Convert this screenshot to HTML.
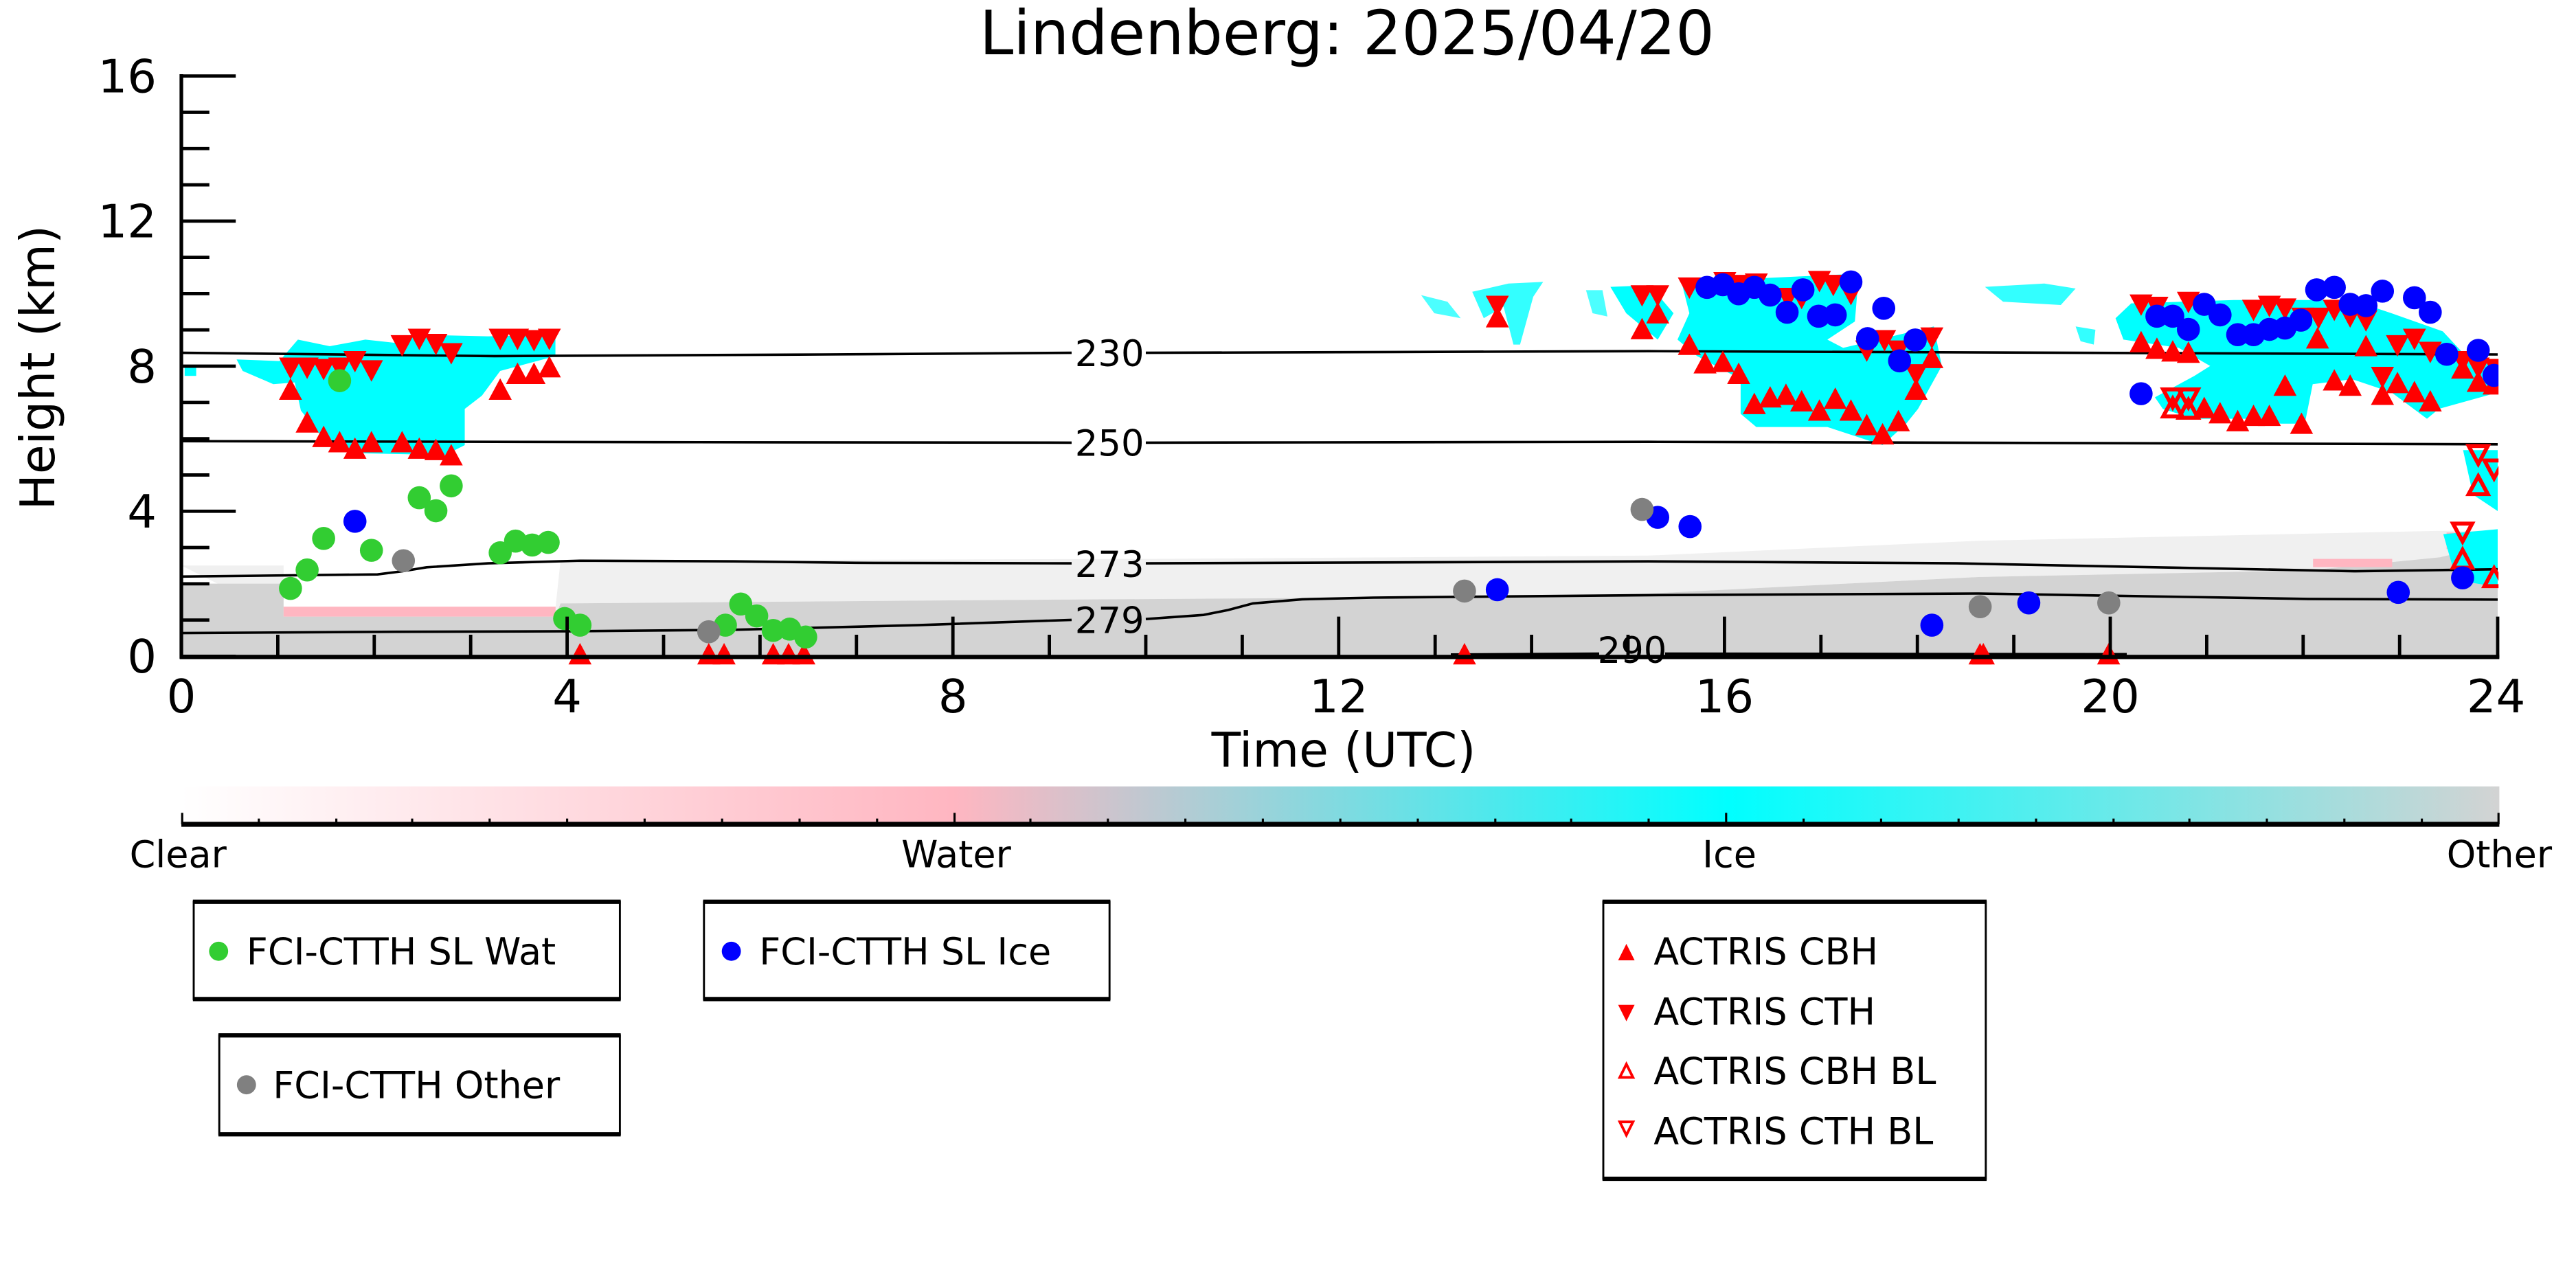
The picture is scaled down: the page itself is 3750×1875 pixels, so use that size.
<!DOCTYPE html>
<html><head><meta charset="utf-8"><style>
html,body{margin:0;padding:0;background:#fff}
svg{display:block}
text{font-family:"DejaVu Sans","Liberation Sans",sans-serif}
</style></head><body>
<svg width="3750" height="1875" viewBox="0 0 1562.5 781.25" xmlns="http://www.w3.org/2000/svg">
<defs>
<path id="u" d="M-7,6H7L0,-7Z" fill="#ff0000"/>
<path id="d" d="M-7,-6H7L0,7Z" fill="#ff0000"/>
<path id="hu" d="M-5.8,5H5.8L0,-5.8Z" fill="none" stroke="#ff0000" stroke-width="2.4"/>
<path id="hd" d="M-5.8,-5H5.8L0,5.8Z" fill="none" stroke="#ff0000" stroke-width="2.4"/>
<circle id="g" r="7" fill="#32cd32"/>
<circle id="b" r="7" fill="#0000ff"/>
<circle id="o" r="7" fill="#808080"/>
<linearGradient id="cb" x1="0" x2="1" y1="0" y2="0">
<stop offset="0" stop-color="#ffffff"/>
<stop offset="0.333" stop-color="#ffb6c1"/>
<stop offset="0.5" stop-color="#80dae0"/>
<stop offset="0.667" stop-color="#00ffff"/>
<stop offset="1" stop-color="#d3d3d3"/>
</linearGradient>
</defs>

<text x="817" y="33" font-size="37" text-anchor="middle">Lindenberg: 2025/04/20</text>

<polygon fill="#f0f0f0" points="110,343 172,343 172,368 337,368 340,340 700,339 1000,337 1200,328 1480,322 1515,322 1515,330 1480,338 1400,346 1200,350 1000,360 900,362 600,364 340,366 337,374 172,374"/>
<polygon fill="#d3d3d3" points="110,354 172,354 172,374 337,374 340,366 600,364 900,362 1000,360 1200,350 1400,346 1480,338 1515,330 1515,398 110,398"/>
<rect x="172" y="368" width="165" height="6" fill="#ffb6c1"/>
<rect x="1403" y="339" width="48" height="5" fill="#ffb6c1"/>
<rect x="1484" y="323" width="31" height="10" fill="#ffb6c1"/>

<g fill="#00ffff">
<polygon points="143.5,218 169.5,219 180.7,206 200,210 221.6,206 240.2,208 251.4,203 296,204 336.9,203 336.9,216 303.4,225 292.3,240 281.9,248 281.9,270 270,276 221.6,275 199.3,270 182.5,249 178.8,232 165.8,233 147.2,225"/>
<rect x="112" y="222" width="7" height="6"/>
<polygon points="1019.9,171 1127.5,166 1125.1,195 1108.4,206 1118,211 1173,198 1177.8,222 1163.4,248 1156.2,257 1141.9,270 1108.4,259 1065.3,259 1055.8,251 1055.8,230 1029.4,216 1017.5,206 1024.7,190"/>
<polygon points="976.8,174 1000.7,173 1015.1,190 1005.5,206 986.4,190"/>
<polygon points="962,176 972,176 975,192 966,190" opacity="0.7"/>
<polygon points="893,177 915,172 936,171 930,180 922,209 918,209 912,186 900,193" opacity="0.8"/>
<polygon points="862,179 878,183 886,193 870,190" opacity="0.7"/>
<polygon points="1283.2,193 1292.7,184 1355,182 1426.7,182 1450.6,190 1481.7,201 1498.5,219 1515.2,220 1515.2,238 1479.3,248 1472.1,254 1450.6,238 1426.7,230 1402.8,233 1398,257 1383.6,257 1364.5,254 1345.4,254 1331,254 1311.9,248 1307.1,241 1331,228 1340.6,222 1321.5,211 1288,206"/>
<polygon points="1204,174 1240,172 1259,175 1250,185 1215,183" opacity="0.8"/>
<polygon points="1259,198 1271,200 1270,209 1262,207" opacity="0.8"/>
<polygon points="1494,273 1515,273 1515,310 1500,300"/>
<polygon points="1482,324 1515,321 1515,356 1490,352"/>
</g>

<g fill="none" stroke="#000" stroke-width="1.5">
<polyline points="110,214 300,216 500,215 650,214"/>
<polyline points="695,214 1000,213 1515,215"/>
<polyline points="110,267.6 400,268.2 650,268.5"/>
<polyline points="695,268.5 1000,268 1515,269.5"/>
<polyline points="110,349.7 229,348.4 244,346.5 258.8,344.1 296,341.7 351.8,340.1 444.8,340.5 519.2,341.4 650,341.7"/>
<polyline points="695,341.7 1000,340.5 1187,341.7 1428,346.5 1515,345.3"/>
<polyline points="110,384 240,383.2 348,382.9 444.8,382 556.5,379.2 650,376"/>
<polyline points="695,375.5 730,373 745,370 760,366 790,363.5 833,362.5 1000,361 1200,360 1400,363.3 1515,363.7"/>
<polyline points="880,397 970,396.5"/>
<polyline points="1010,396.5 1290,396.8"/>
</g>
<g font-size="22" text-anchor="middle">
<text x="673" y="222">230</text>
<text x="673" y="276.5">250</text>
<text x="673" y="350">273</text>
<text x="673" y="384">279</text>
<text x="990" y="402">290</text>
</g>

<g>
<use href="#d" x="176.2" y="222.9"/><use href="#d" x="186.3" y="222.9"/><use href="#d" x="196.3" y="223.7"/><use href="#d" x="206" y="222.9"/><use href="#d" x="215.3" y="218.9"/><use href="#d" x="225.3" y="224.5"/><use href="#d" x="243.9" y="209.3"/><use href="#d" x="254.3" y="205.4"/><use href="#d" x="264.4" y="208.5"/><use href="#d" x="273.7" y="214.1"/><use href="#d" x="303.4" y="205.4"/><use href="#d" x="313.9" y="205.4"/><use href="#d" x="323.9" y="206.2"/><use href="#d" x="333.2" y="205.4"/>
<use href="#u" x="176.2" y="236.5"/><use href="#u" x="186.3" y="256.4"/><use href="#u" x="196.3" y="265.2"/><use href="#u" x="206" y="268.4"/><use href="#u" x="215.3" y="272.3"/><use href="#u" x="225.3" y="268.4"/><use href="#u" x="243.9" y="268.4"/><use href="#u" x="254.3" y="272.3"/><use href="#u" x="264.4" y="273.1"/><use href="#u" x="273.7" y="276.3"/><use href="#u" x="303.4" y="236.5"/><use href="#u" x="313.9" y="226.9"/><use href="#u" x="323.9" y="226.9"/><use href="#u" x="333.2" y="222.9"/>
<use href="#u" x="351.8" y="397"/><use href="#u" x="429.9" y="397"/><use href="#u" x="439.2" y="397"/><use href="#u" x="469" y="397"/><use href="#u" x="478.3" y="397"/><use href="#u" x="487.6" y="397"/><use href="#u" x="888.3" y="397"/><use href="#u" x="1201" y="397"/><use href="#u" x="1203" y="397"/><use href="#u" x="1279" y="397"/>

<use href="#g" x="206" y="230.9"/><use href="#g" x="176.2" y="356.9"/><use href="#g" x="186.3" y="345.7"/><use href="#g" x="196.3" y="326.6"/><use href="#g" x="225.3" y="333.8"/><use href="#g" x="254.3" y="301.9"/><use href="#g" x="264.4" y="309.8"/><use href="#g" x="273.7" y="294.7"/><use href="#g" x="303.4" y="335.3"/><use href="#g" x="312.7" y="328.2"/><use href="#g" x="322.8" y="330.6"/><use href="#g" x="332.5" y="329"/><use href="#g" x="342.5" y="375.2"/><use href="#g" x="351.8" y="379.2"/><use href="#g" x="449.3" y="366.4"/><use href="#g" x="459" y="373.6"/><use href="#g" x="440" y="379.2"/><use href="#g" x="469" y="382.4"/><use href="#g" x="479" y="381.6"/><use href="#g" x="488.7" y="386.4"/>
<use href="#b" x="215.3" y="316.2"/>
<use href="#o" x="244.7" y="340.1"/><use href="#o" x="429.9" y="383.2"/>

<use href="#d" x="908.2" y="185.4"/><use href="#u" x="908.2" y="192.6"/>
<use href="#d" x="996" y="179"/><use href="#u" x="996" y="199.8"/><use href="#d" x="1005.5" y="179"/><use href="#u" x="1005.5" y="190.2"/><use href="#d" x="1024.7" y="174.3"/>
<use href="#u" x="1024.7" y="209.3"/><use href="#u" x="1034.2" y="220.5"/><use href="#u" x="1045" y="219.7"/><use href="#u" x="1054.6" y="226.9"/><use href="#u" x="1064.1" y="245.2"/><use href="#u" x="1073.7" y="241.2"/><use href="#u" x="1083.3" y="239.6"/><use href="#u" x="1092.8" y="243.6"/><use href="#u" x="1103.6" y="249.2"/><use href="#u" x="1113.2" y="242"/><use href="#u" x="1122.7" y="249.2"/><use href="#u" x="1132.3" y="258"/><use href="#u" x="1141.9" y="263.6"/><use href="#u" x="1151.5" y="255.6"/><use href="#u" x="1162.2" y="236.5"/><use href="#u" x="1171.8" y="217.3"/>
<use href="#d" x="1103.6" y="170.3"/><use href="#d" x="1112" y="172.7"/><use href="#d" x="1122.7" y="178.2"/><use href="#d" x="1143.1" y="206.2"/><use href="#d" x="1132.3" y="212.5"/><use href="#d" x="1151.5" y="212.5"/><use href="#d" x="1171.8" y="204.6"/><use href="#d" x="1162.2" y="226.9"/><use href="#d" x="1084.5" y="180.6"/><use href="#d" x="1092.8" y="180.6"/><use href="#d" x="1055.8" y="172.7"/><use href="#d" x="1046.2" y="171"/><use href="#d" x="1065.3" y="171.9"/>
<use href="#b" x="1035.4" y="174.3"/><use href="#b" x="1045" y="172.7"/><use href="#b" x="1054.6" y="178.2"/><use href="#b" x="1064.1" y="174.3"/><use href="#b" x="1073.7" y="179"/><use href="#b" x="1084" y="189.4"/><use href="#b" x="1093.6" y="175.8"/><use href="#b" x="1103.1" y="191.8"/><use href="#b" x="1113.2" y="191"/><use href="#b" x="1122.7" y="171"/><use href="#b" x="1142.6" y="187"/><use href="#b" x="1132.8" y="205.4"/><use href="#b" x="1161.7" y="206.2"/><use href="#b" x="1152.2" y="218.9"/><use href="#b" x="1005.5" y="313.8"/><use href="#b" x="1025.1" y="319.4"/><use href="#b" x="908.2" y="357.7"/><use href="#b" x="1171.8" y="379.2"/>
<use href="#o" x="996" y="309"/><use href="#o" x="888.3" y="358.5"/><use href="#o" x="1201.1" y="368"/><use href="#o" x="1279.1" y="365.7"/>

<use href="#d" x="1298.7" y="184.6"/><use href="#d" x="1308.3" y="186"/><use href="#d" x="1327.4" y="183"/><use href="#d" x="1366.9" y="187.8"/><use href="#d" x="1376.5" y="185.4"/><use href="#d" x="1386" y="187"/><use href="#d" x="1396.8" y="192.6"/><use href="#d" x="1406.4" y="192.6"/><use href="#d" x="1415.9" y="187.8"/><use href="#d" x="1425.5" y="191.8"/><use href="#d" x="1435.1" y="194.2"/><use href="#d" x="1454.2" y="209.3"/><use href="#d" x="1464.5" y="205.4"/><use href="#d" x="1474.1" y="213.3"/><use href="#d" x="1493.7" y="218.9"/><use href="#d" x="1503.2" y="222.9"/><use href="#d" x="1445.1" y="228.5"/><use href="#d" x="1514" y="223.7"/>
<use href="#u" x="1298.7" y="207.7"/><use href="#u" x="1308.3" y="211.7"/><use href="#u" x="1317.9" y="213.3"/><use href="#u" x="1327.4" y="214.1"/><use href="#u" x="1337" y="247.6"/><use href="#u" x="1346.6" y="250.8"/><use href="#u" x="1357.3" y="255.6"/><use href="#u" x="1366.9" y="252.4"/><use href="#u" x="1376.5" y="252.4"/><use href="#u" x="1386" y="234.1"/><use href="#u" x="1396" y="257.2"/><use href="#u" x="1405.7" y="205.4"/><use href="#u" x="1415.9" y="230.9"/><use href="#u" x="1425.5" y="234.1"/><use href="#u" x="1435.1" y="210.1"/><use href="#u" x="1445.1" y="239.6"/><use href="#u" x="1454.2" y="232.5"/><use href="#u" x="1464.5" y="238"/><use href="#u" x="1474.1" y="243.6"/><use href="#u" x="1493.7" y="223.7"/><use href="#u" x="1503.2" y="231.7"/><use href="#u" x="1512.8" y="233.3"/>
<use href="#hd" x="1317.9" y="241.2"/><use href="#hd" x="1327.4" y="241.2"/><use href="#hd" x="1503.2" y="275.5"/><use href="#hd" x="1512.8" y="284.3"/><use href="#hd" x="1493.7" y="322.6"/>
<use href="#hu" x="1317.9" y="247.6"/><use href="#hu" x="1327.4" y="248.4"/><use href="#hu" x="1503.2" y="294.7"/><use href="#hu" x="1493.7" y="339.3"/><use href="#hu" x="1512.8" y="350.5"/>
<use href="#b" x="1298.7" y="238.8"/><use href="#b" x="1308.3" y="191.8"/><use href="#b" x="1317.9" y="191.8"/><use href="#b" x="1327.4" y="199.8"/><use href="#b" x="1337" y="184.6"/><use href="#b" x="1346.6" y="191"/><use href="#b" x="1357.3" y="203"/><use href="#b" x="1366.9" y="203"/><use href="#b" x="1376.5" y="199.8"/><use href="#b" x="1386" y="199"/><use href="#b" x="1395.6" y="194.2"/><use href="#b" x="1405.2" y="175.8"/><use href="#b" x="1415.9" y="174.3"/><use href="#b" x="1425.5" y="184.6"/><use href="#b" x="1435.1" y="185.4"/><use href="#b" x="1445.1" y="176.6"/><use href="#b" x="1464.5" y="180.6"/><use href="#b" x="1474.1" y="189.4"/><use href="#b" x="1484.1" y="214.9"/><use href="#b" x="1503.2" y="212.5"/><use href="#b" x="1512.8" y="227.7"/><use href="#b" x="1493.7" y="350.5"/><use href="#b" x="1454.7" y="359.3"/><use href="#b" x="1230.6" y="365.7"/>
</g>
<rect x="1515.5" y="150" width="20" height="260" fill="#fff"/>

<g stroke="#000">
<line x1="110" y1="45" x2="110" y2="399.5" stroke-width="2.2"/>
<line x1="109" y1="398.5" x2="1516" y2="398.5" stroke-width="2.6"/>
<line x1="1515" y1="374" x2="1515" y2="399" stroke-width="2"/>
</g>
<g stroke="#000" stroke-width="2">
<path d="M110,46.1h33M110,134.1h33M110,222.1h33M110,310.1h33M110,398.1h33"/>
<path d="M110,68.1h17M110,90.1h17M110,112.1h17M110,156.1h17M110,178.1h17M110,200.1h17M110,244.1h17M110,266.1h17M110,288.1h17M110,332.1h17M110,354.1h17M110,376.1h17"/>
<path d="M344,398v-24M578,398v-24M812,398v-24M1046,398v-24M1280,398v-24"/>
<path d="M168.5,398v-13M227,398v-13M285.5,398v-13M402.5,398v-13M461,398v-13M519.5,398v-13M636.5,398v-13M695,398v-13M753.5,398v-13M870.5,398v-13M929,398v-13M987.5,398v-13M1104.5,398v-13M1163,398v-13M1221.5,398v-13M1338.5,398v-13M1397,398v-13M1455.5,398v-13"/>
</g>
<g font-size="28" text-anchor="end">
<text x="95" y="56">16</text>
<text x="95" y="144">12</text>
<text x="95" y="232">8</text>
<text x="95" y="320">4</text>
<text x="95" y="408">0</text>
</g>
<g font-size="28" text-anchor="middle">
<text x="110" y="432">0</text>
<text x="344" y="432">4</text>
<text x="578" y="432">8</text>
<text x="812" y="432">12</text>
<text x="1046" y="432">16</text>
<text x="1280" y="432">20</text>
<text x="1514" y="432">24</text>
<text x="815" y="465" font-size="29">Time (UTC)</text>
<text transform="translate(33,223) rotate(-90)" font-size="29">Height (km)</text>
</g>

<rect x="110" y="477" width="1406" height="22" fill="url(#cb)"/>
<line x1="110" y1="500" x2="1516" y2="500" stroke="#000" stroke-width="3"/>
<g stroke="#000" stroke-width="1.3">
<path d="M110.5,500v-7M579,500v-7M1047,500v-7M1515.5,500v-7"/>
<path d="M157,500v-3.5M204,500v-3.5M250,500v-3.5M297,500v-3.5M344,500v-3.5M391,500v-3.5M438,500v-3.5M485,500v-3.5M532,500v-3.5M625,500v-3.5M672,500v-3.5M719,500v-3.5M766,500v-3.5M813,500v-3.5M860,500v-3.5M907,500v-3.5M953,500v-3.5M1000,500v-3.5M1094,500v-3.5M1141,500v-3.5M1188,500v-3.5M1235,500v-3.5M1282,500v-3.5M1328,500v-3.5M1375,500v-3.5M1422,500v-3.5M1469,500v-3.5"/>
</g>
<g font-size="22.5" text-anchor="middle">
<text x="108" y="526">Clear</text>
<text x="580" y="526">Water</text>
<text x="1049" y="526">Ice</text>
<text x="1516" y="526">Other</text>
</g>

<g fill="none" stroke="#000">
<rect x="117.5" y="547" width="258.5" height="59" stroke-width="1.2"/>
<path d="M117,547H376.5M117,606H376.5" stroke-width="2.6"/>
<rect x="427" y="547" width="246" height="59" stroke-width="1.2"/>
<path d="M426.5,547H673.5M426.5,606H673.5" stroke-width="2.6"/>
<rect x="133" y="628" width="243" height="60" stroke-width="1.2"/>
<path d="M132.5,628H376.5M132.5,688H376.5" stroke-width="2.6"/>
<rect x="972.5" y="547" width="232" height="168" stroke-width="1.2"/>
<path d="M972,547H1205M972,715H1205" stroke-width="2.6"/>
</g>
<circle cx="132.6" cy="577" r="5.8" fill="#32cd32"/>
<circle cx="443.6" cy="577" r="5.8" fill="#0000ff"/>
<circle cx="149.5" cy="658" r="5.8" fill="#808080"/>
<path d="M981.5,582.5h10l-5,-10z" fill="#ff0000"/>
<path d="M981.5,609.5h10l-5,10z" fill="#ff0000"/>
<path d="M982.5,653.5h8l-4,-8z" fill="none" stroke="#ff0000" stroke-width="1.6"/>
<path d="M982.5,680.5h8l-4,8z" fill="none" stroke="#ff0000" stroke-width="1.6"/>
<g font-size="22.5">
<text x="149.5" y="585">FCI-CTTH SL Wat</text>
<text x="460.5" y="585">FCI-CTTH SL Ice</text>
<text x="165.5" y="666">FCI-CTTH Other</text>
<text x="1003" y="585">ACTRIS CBH</text>
<text x="1003" y="621.5">ACTRIS CTH</text>
<text x="1003" y="657.5">ACTRIS CBH BL</text>
<text x="1003" y="694">ACTRIS CTH BL</text>
</g>
</svg>
</body></html>
